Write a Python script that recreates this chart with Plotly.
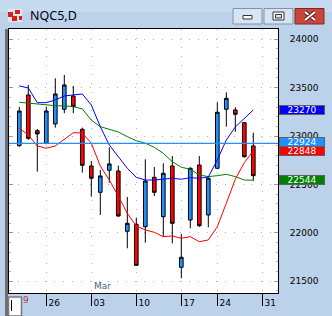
import plotly.graph_objects as go

# ---------------- data ----------------
idx = list(range(27))
opens  = [22901, 23425, 23056, 22926, 23125, 23277, 23414, 23070, 22691, 22419,
          22647, 22639, 22016, 22089, 22064, 22574, 22167, 22691, 21645, 22133,
          22701, 22185, 22667, 23277, 23270, 23138, 22898]
highs  = [23301, 23528, 23073, 23304, 23597, 23631, 23518, 23087, 22743, 22650,
          22884, 22694, 22370, 22157, 22760, 22680, 22719, 22794, 21989, 22678,
          22794, 22581, 23349, 23452, 23298, 23145, 23035]
lows   = [22890, 22960, 22632, 22915, 23087, 23236, 23236, 22622, 22374, 22185,
          22519, 22167, 21841, 21660, 21899, 22381, 21961, 21892, 21531, 22047,
          22062, 22058, 22660, 23097, 23045, 22777, 22539]
closes = [23259, 22977, 23022, 23259, 23435, 23528, 23304, 22698, 22564, 22588,
          22712, 22174, 22099, 21665, 22536, 22419, 22616, 22099, 21748, 22667,
          22074, 22564, 23246, 23390, 23225, 22787, 22591]

ma_blue  = [23518, 23497, 23345, 23345, 23373, 23414, 23425, 23435, 23321, 23097,
            22908, 22787, 22667, 22574, 22546, 22546, 22557, 22564, 22554, 22570,
            22564, 22577, 22753, 22960, 23094, 23177, 23270]
ma_red   = [23081, 23011, 22898, 22874, 22898, 22967, 23035, 23032, 22926, 22691,
            22546, 22381, 22202, 22071, 22030, 22006, 21961, 21968, 21944, 21961,
            21909, 21927, 22064, 22306, 22554, 22725, 22848]
ma_green = [23349, 23339, 23328, 23321, 23314, 23311, 23304, 23280, 23164, 23097,
            23070, 23042, 22994, 22952, 22926, 22884, 22822, 22735, 22678, 22657,
            22598, 22581, 22591, 22605, 22581, 22546, 22544]

price_line = 22924

date_tick_idx = [3, 8, 13, 18, 22, 27]
date_tick_txt = ["26", "03", "10", "17", "24", "31"]
y_tick_vals = [21500, 22000, 22500, 23000, 23500, 24000]

title_text = "NQC5,D"

# ---------------- geometry helpers (pixels -> paper) ----------------
W_PX, H_PX = 332, 316
L, R, T, B = 9, 278, 29, 293
PW, PH = R - L, B - T


def px(x):
    return (x - L) / PW


def py(y):
    return (B - y) / PH


FONT = "DejaVu Sans"

fig = go.Figure()

fig.add_trace(go.Candlestick(
    x=idx, open=opens, high=highs, low=lows, close=closes,
    increasing=dict(fillcolor="#1e90ff", line=dict(color="black", width=1)),
    decreasing=dict(fillcolor="#ff0000", line=dict(color="black", width=1)),
    whiskerwidth=0, showlegend=False, hoverinfo="skip"))

for ys, col in [(ma_green, "#008000"), (ma_blue, "#0000ff"), (ma_red, "#ff0000")]:
    fig.add_trace(go.Scatter(x=idx, y=ys, mode="lines",
                             line=dict(color=col, width=1),
                             showlegend=False, hoverinfo="skip"))

fig.add_hline(y=price_line, line=dict(color="#1e90ff", width=1.3))

shapes = []
# window inner panel
shapes.append(dict(type="rect", xref="paper", yref="paper", layer="below",
                   x0=px(8), x1=px(325.5), y0=py(306.5), y1=py(29),
                   fillcolor="white", line=dict(color="#d4d4d4", width=1)))
# title bar lighter top band
shapes.append(dict(type="rect", xref="paper", yref="paper", layer="below",
                   x0=px(0), x1=px(332), y0=py(12), y1=py(0),
                   fillcolor="#c6daef", line=dict(width=0)))
# left dark strip
shapes.append(dict(type="rect", xref="paper", yref="paper", layer="below",
                   x0=px(5), x1=px(8), y0=py(316), y1=py(29),
                   fillcolor="#6e6e6e", line=dict(width=0)))
# bottom-left small box
shapes.append(dict(type="rect", xref="paper", yref="paper",
                   x0=px(8.5), x1=px(21.5), y0=py(316), y1=py(297),
                   fillcolor="white", line=dict(color="#7a7a7a", width=1.5)))
shapes.append(dict(type="line", xref="paper", yref="paper",
                   x0=px(11.5), x1=px(11.5), y0=py(311), y1=py(300),
                   line=dict(color="black", width=1)))
# icon
shapes.append(dict(type="rect", xref="paper", yref="paper",
                   x0=px(8), x1=px(22), y0=py(22), y1=py(9),
                   fillcolor="#e6e6e6", line=dict(width=0)))
for (a, b, c, d) in [(8, 13, 12, 17), (15, 20, 10, 14), (12, 17, 16, 21), (19, 22, 16, 20)]:
    shapes.append(dict(type="rect", xref="paper", yref="paper",
                       x0=px(a), x1=px(b), y0=py(d), y1=py(c),
                       fillcolor="#d42020", line=dict(width=0)))
# buttons
for (a, b, fc, lc) in [(233, 262, "#d8e4f2", "#7f93b0"),
                       (264, 293, "#d8e4f2", "#7f93b0"),
                       (295, 324, "#c8463c", "#7c2a22")]:
    shapes.append(dict(type="rect", xref="paper", yref="paper",
                       x0=px(a), x1=px(b), y0=py(24), y1=py(8.5),
                       fillcolor=fc, line=dict(color=lc, width=1)))
# minimize glyph
shapes.append(dict(type="rect", xref="paper", yref="paper",
                   x0=px(243), x1=px(252), y0=py(19), y1=py(15.5),
                   fillcolor="white", line=dict(color="#333", width=1)))
# maximize glyph
shapes.append(dict(type="rect", xref="paper", yref="paper",
                   x0=px(273), x1=px(284), y0=py(20), y1=py(12),
                   fillcolor="white", line=dict(color="#333", width=1)))
shapes.append(dict(type="rect", xref="paper", yref="paper",
                   x0=px(275.5), x1=px(281.5), y0=py(18), y1=py(14.5),
                   fillcolor="#d8e4f2", line=dict(color="#333", width=1)))
# close glyph
for (x0, y0, x1, y1) in [(305, 12, 315, 20), (305, 20, 315, 12)]:
    shapes.append(dict(type="line", xref="paper", yref="paper",
                       x0=px(x0), x1=px(x1), y0=py(y0), y1=py(y1),
                       line=dict(color="#5a1a14", width=4)))
    shapes.append(dict(type="line", xref="paper", yref="paper",
                       x0=px(x0), x1=px(x1), y0=py(y0), y1=py(y1),
                       line=dict(color="white", width=2.2)))

annotations = []
annotations.append(dict(text=title_text, xref="paper", yref="paper",
                        x=px(28), y=py(16), xanchor="left", yanchor="middle",
                        showarrow=False, font=dict(family="Noto Sans", size=12.5, color="black")))
annotations.append(dict(text="Mar", xref="x", yref="paper", x=date_tick_idx[1], y=0,
                        xanchor="left", yanchor="bottom", xshift=1, yshift=0,
                        showarrow=False, font=dict(family=FONT, size=9, color="#4a5f80")))
annotations.append(dict(text="9", xref="paper", yref="paper", x=px(20.5), y=py(300),
                        xanchor="left", yanchor="middle", showarrow=False,
                        font=dict(family=FONT, size=9, color="#b03050")))

# right-side value labels
for val, bg, ysh in [(ma_blue[-1], "#0000ff", 0), (price_line, "#1e90ff", 1),
                     (ma_red[-1], "#ff0000", 0), (ma_green[-1], "#008000", 0)]:
    annotations.append(dict(text=str(val), xref="paper", yref="y", x=1, y=val,
                            xanchor="left", yanchor="middle", xshift=1, yshift=ysh,
                            width=44, height=8, align="center",
                            bgcolor=bg, bordercolor="#606060", borderwidth=1, borderpad=0,
                            showarrow=False, font=dict(family=FONT, size=9, color="white")))

fig.update_layout(
    width=W_PX, height=H_PX,
    margin=dict(l=L, r=W_PX - R, t=T, b=H_PX - B, pad=0),
    paper_bgcolor="#bcd2ea", plot_bgcolor="white",
    showlegend=False, boxgap=0.42,
    shapes=shapes, annotations=annotations,
    xaxis=dict(range=[-1.144, (R - 19.3) / 9.0],
               rangeslider=dict(visible=False),
               tickvals=date_tick_idx, ticktext=date_tick_txt,
               ticks="outside", ticklen=12, tickcolor="black", tickwidth=1,
               ticklabelshift=8, ticklabelstandoff=-11,
               tickfont=dict(family=FONT, size=9, color="black"),
               showgrid=True, gridcolor="#b4b4b4", griddash="1px,8px", gridwidth=1,
               showline=True, linecolor="black", linewidth=1, mirror=True,
               zeroline=False, fixedrange=True),
    yaxis=dict(side="right", range=[21379, 24106],
               tickvals=y_tick_vals, tickformat="d",
               ticks="inside", ticklen=4, tickcolor="#9a9a9a",
               minor=dict(dtick=100, ticks="inside", ticklen=2, tickcolor="#b0b0b0", showgrid=False),
               ticklabelstandoff=9,
               tickfont=dict(family=FONT, size=9, color="black"),
               showgrid=True, gridcolor="#b4b4b4", griddash="1px,8px", gridwidth=1,
               showline=True, linecolor="black", linewidth=1, mirror="allticks",
               zeroline=False, fixedrange=True),
)

fig.write_html("out.html")
